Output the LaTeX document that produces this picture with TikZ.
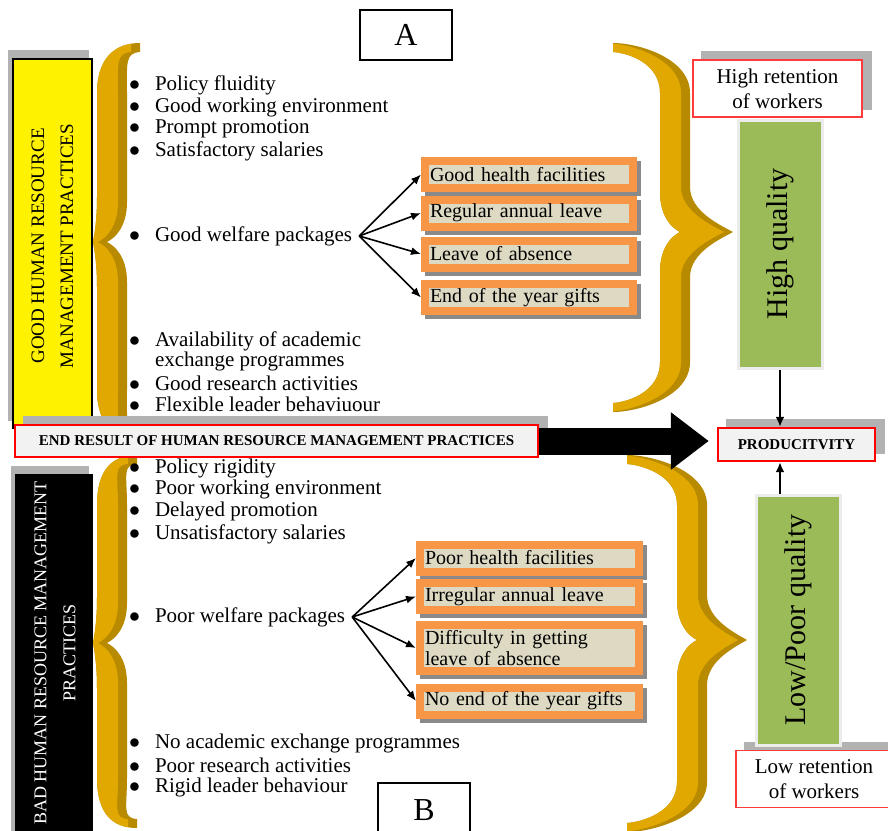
\documentclass[tikz,border=0pt]{standalone}
\usepackage{fontspec}
\setmainfont{Liberation Serif}
\usetikzlibrary{arrows.meta}

\definecolor{braceface}{HTML}{E0A800}
\definecolor{braceside}{HTML}{B88A00}
\definecolor{perkedge}{HTML}{F79646}
\definecolor{perkfill}{HTML}{DDD9C3}
\definecolor{leafgreen}{HTML}{9BBB59}
\definecolor{panelgray}{HTML}{F2F2F2}
\definecolor{dotshade}{HTML}{B2B2B2}
\definecolor{boxshade}{HTML}{8A8A8A}
\definecolor{thinred}{HTML}{FF3B3B}

\newcommand{\itembullet}{\makebox[13pt][l]{$\bullet$}}

% brace outline: top, cusp, bottom, cusp depth, reach of the ends
\newcommand{\bracepath}[5]{(0,#1+50) .. controls (0,#1+15) and (#5-25,#1) .. (#5,#1) -- (#5,#1+9)
  .. controls (#5-15,#1+10) and (30,#1+20) .. (30,#1+50) -- (30,#2-40)
  .. controls (30,#2-15) and (18,#2-4) .. (10,#2) .. controls (18,#2+4) and (30,#2+15) .. (30,#2+40)
  -- (30,#3-50) .. controls (30,#3-20) and (#5-15,#3-10) .. (#5,#3-9) -- (#5,#3)
  .. controls (#5-25,#3) and (0,#3-15) .. (0,#3-50) -- (0,#2+45)
  .. controls (0,#2+20) and (-0.75*#4,#2+6) .. (-#4,#2) .. controls (-0.75*#4,#2-6) and (0,#2-20) .. (0,#2-45) -- cycle}
\newcommand{\goldbrace}[7]{%
  \begin{scope}[shift={(#1,0)}, xscale=#2]
    \fill[braceside] \bracepath{#3}{#4}{#5}{#6}{#7};
    \begin{scope}
      \clip \bracepath{#3}{#4}{#5}{#6}{#7};
      \fill[braceface, shift={({-9*#2},0)}] \bracepath{#3}{#4}{#5}{#6}{#7};
    \end{scope}
  \end{scope}}

\begin{document}
\begin{tikzpicture}[x=0.5pt, y=-0.5pt, >=latex]
	\tikzstyle{item} = [anchor=west, font=\fontsize{10.5}{11}\selectfont]
	\tikzstyle{shadeDR} = [preaction={fill=boxshade, draw=boxshade, transform canvas={shift={(2pt,-2pt)}}}]
	\tikzstyle{shadeUR} = [preaction={fill=dotshade, draw=dotshade, transform canvas={shift={(4.5pt,4pt)}}}]
	\tikzstyle{shadeUL} = [preaction={fill=dotshade, draw=dotshade, transform canvas={shift={(-2pt,4pt)}}}]
	\tikzstyle{letterbox} = [draw, line width=0.65pt, minimum width=46pt, font=\fontsize{16}{16}\selectfont]
	\tikzstyle{sidebox} = [draw=black, line width=0.6pt, shadeUL, inner sep=0pt]
	\tikzstyle{sidetext} = [rotate=90, align=center, font=\fontsize{9.5}{14.5}\selectfont]
	\tikzstyle{perk} = [draw=perkedge, line width=4pt, fill=perkfill, shadeDR, minimum height=13.5pt, inner xsep=2.5pt, inner ysep=0pt, align=left, font=\fontsize{10}{10.5}\selectfont]
	\tikzstyle{retain} = [draw=thinred, line width=0.7pt, fill=white, shadeUR, align=center, minimum height=28.5pt, font=\fontsize{10.5}{12.5}\selectfont]
	\tikzstyle{quality} = [rotate=90, fill=leafgreen, draw=gray!15, line width=1.5pt, minimum height=42pt, font=\fontsize{15}{15}\selectfont]
	\tikzstyle{result} = [draw=red, line width=1.2pt, fill=panelgray, shadeUR, font=\bfseries\fontsize{7.5}{7.5}\selectfont]
	\tikzstyle{branch} = [line width=0.8pt, -{Latex[length=5pt, width=4pt]}]
	\tikzstyle{feed} = [line width=1.2pt, -{Latex[length=5pt, width=4.5pt]}]
	\tikzstyle{bigarrow} = [line width=13.5pt, -{Triangle[length=19pt, width=27.5pt]}]

	\useasboundingbox[fill=white] (0,0) rectangle (888,830);

	\goldbrace{97}{1}{43}{242}{440}{4}{43}
	\goldbrace{97}{1}{455}{643}{828}{4}{40}
	\goldbrace{690}{-1}{43}{232}{412}{43}{77}
	\goldbrace{707}{-1}{455}{640}{832}{40}{80}

	\node[letterbox, minimum height=25pt] 	(A) 	at (406, 35) 	{A};
	\node[letterbox, minimum height=27pt] 	(B) 	at (424, 810) 	{B};

	\node[sidebox, fill=yellow, minimum width=39.5pt, minimum height=184.5pt] 	(goodside) 	at (52.5, 243.5) {};
	\node[sidetext] 		(goodtxt) 	at (52.5, 246) 	{GOOD HUMAN RESOURCE\\MANAGEMENT PRACTICES};
	\node[sidebox, fill=black, minimum width=38pt, minimum height=185pt] 	(badside) 	at (54, 660) {};
	\node[sidetext, white, font=\fontsize{9}{14.5}\selectfont] 	(badtxt) 	at (55, 653) 	{BAD HUMAN RESOURCE MANAGEMENT\\PRACTICES};

	\foreach \y/\txt [count=\i] in {85/Policy fluidity, 107/Good working environment, 129/Prompt promotion, 151/Satisfactory salaries}
		\node[item] (good\i) at (122, \y) {\itembullet\txt};
	\node[item] 	(gwel) 		at (122, 236) 	{\itembullet Good welfare packages};
	\node[item] 	(goodx1) 	at (122, 341) 	{\itembullet Availability of academic};
	\node[item] 	(goodx2) 	at (122, 361) 	{\hspace*{13pt}exchange programmes};
	\node[item] 	(goodx3) 	at (122, 383) 	{\itembullet Good research activities};
	\node[item] 	(goodx4) 	at (122, 404) 	{\itembullet Flexible leader behaviuour};

	\foreach \y/\txt [count=\i] in {468/Policy rigidity, 489/Poor working environment, 511/Delayed promotion, 534/Unsatisfactory salaries}
		\node[item] (bad\i) at (122, \y) {\itembullet\txt};
	\node[item] 	(bwel) 		at (122, 617) 	{\itembullet Poor welfare packages};
	\foreach \y/\txt [count=\i] in {743/No academic exchange programmes, 765/Poor research activities, 787/Rigid leader behaviour}
		\node[item] (badx\i) at (122, \y) {\itembullet\txt};

	\foreach \y/\txt [count=\i] in {174.5/Good health facilities, 213/Regular annual leave, 254/Leave of absence, 297.5/End of the year gifts}
		\node[perk, text width=99pt] (gperk\i) at (529, \y) {\txt};
	\node[perk, text width=104.5pt] 	(bperk1) 	at (529.5, 558) 	{Poor health facilities};
	\node[perk, text width=104.5pt] 	(bperk2) 	at (529.5, 596.5) 	{Irregular annual leave};
	\node[perk, text width=104.5pt, minimum height=23pt] 	(bperk3) 	at (529.5, 648) 	{Difficulty in getting\\leave of absence};
	\node[perk, text width=104.5pt] 	(bperk4) 	at (529.5, 701) 	{No end of the year gifts};

	\foreach \n in {1,...,4} {
		\draw[branch] (gwel.east) -- (gperk\n.west);
		\draw[branch] (bwel.east) -- (bperk\n.west);
	}

	\node[retain, minimum width=84.5pt] 	(hiret) 	at (777.5, 88.5) 	{High retention\\of workers};
	\node[retain, minimum width=78pt] 		(loret) 	at (814, 779) 		{Low retention\\of workers};
	\node[quality, minimum width=124pt] 	(hiq) 		at (780, 244) 		{High quality};
	\node[quality, minimum width=125pt] 	(loq) 		at (798.5, 620) 	{Low/Poor quality};

	\node[result, minimum width=261.5pt, minimum height=16pt] 	(endres) 	at (276.5, 441) 	{END RESULT OF HUMAN RESOURCE MANAGEMENT PRACTICES};
	\node[result, minimum width=78.5pt, minimum height=16.5pt] 	(prod) 		at (796.5, 444.5) 	{PRODUCITVITY};

	\draw[bigarrow] (endres.east) -- ([xshift=-4pt]prod.west |- endres.east);
	\draw[feed] (hiq.west) -- (hiq.west |- prod.north);
	\draw[feed] (loq.east -| hiq.west) -- (prod.south -| hiq.west);
\end{tikzpicture}
\end{document}
